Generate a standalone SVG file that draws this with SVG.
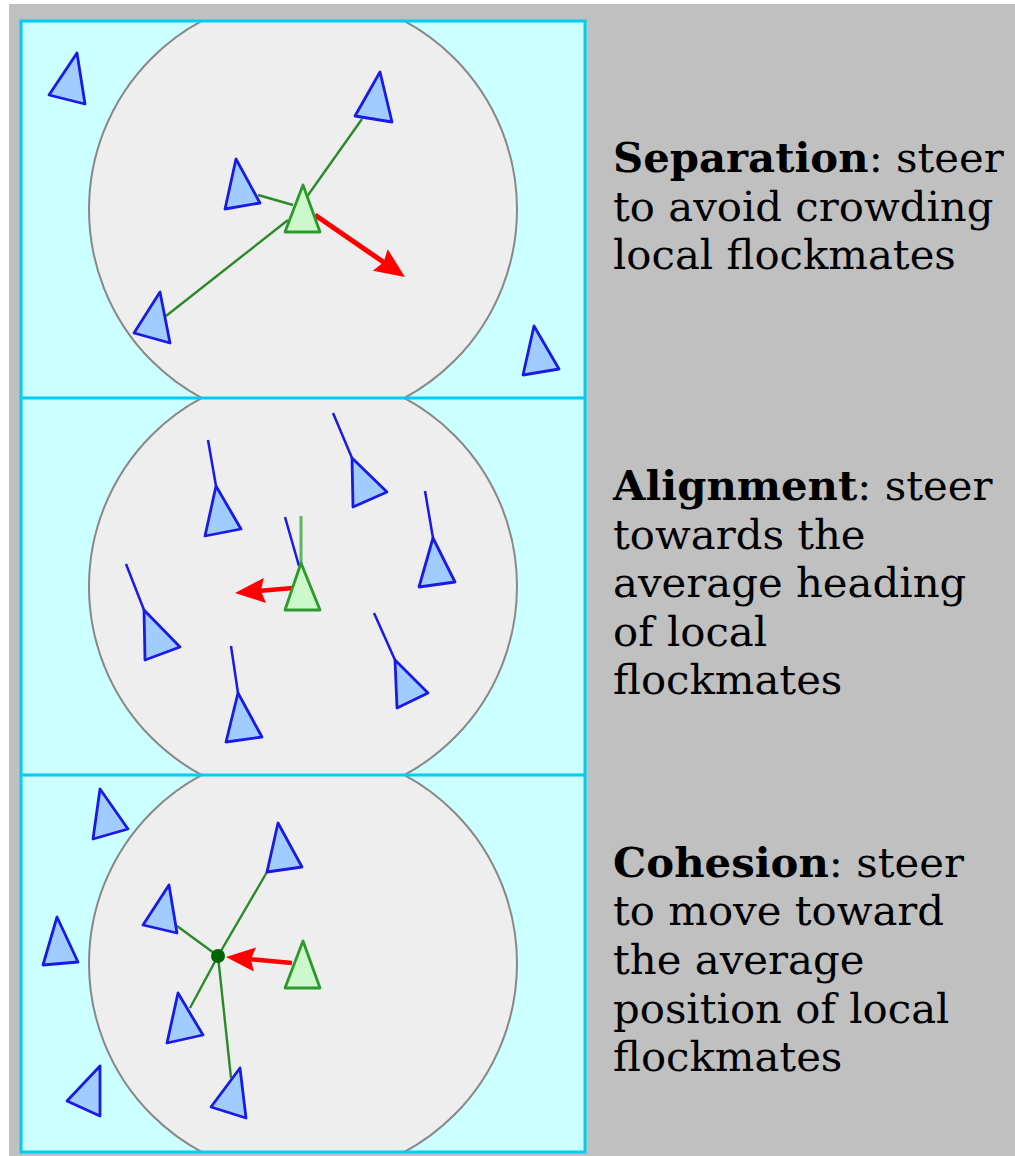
<svg xmlns="http://www.w3.org/2000/svg" width="1015" height="1156" viewBox="0 0 1015 1156">
<style>
.boid{fill:#a0ccff;stroke:#1a1ae6;stroke-width:2.8;stroke-linejoin:round}
.me{fill:#ccf8cc;stroke:#2a9a2a;stroke-width:2.8;stroke-linejoin:round}
.tail{stroke:#1a1ae6;stroke-width:2.5;fill:none}
.link{stroke:#2a8a2a;stroke-width:2.4;fill:none}
.gtail{stroke:#5ab85a;stroke-width:3;fill:none}
.force{stroke:#ff0000;fill:none}
.head{fill:#ff0000}
.area{fill:#eeeeee;stroke:#888888;stroke-width:2}
.lbl{font-family:"DejaVu Serif",serif;font-size:41.8px;fill:#000}
.lbl tspan.b{font-weight:bold}
</style>
<defs>
<clipPath id="c1"><rect x="21" y="21" width="564" height="377"/></clipPath>
<clipPath id="c2"><rect x="21" y="398" width="564" height="377"/></clipPath>
<clipPath id="c3"><rect x="21" y="775" width="564" height="377"/></clipPath>
</defs>
<rect x="0" y="0" width="1015" height="1156" fill="#ffffff"/>
<rect x="9" y="4" width="1006" height="1152" fill="#c0c0c0"/>
<rect x="21" y="21" width="564" height="1131" fill="#ccffff"/>
<g id="panel-separation" clip-path="url(#c1)">
<circle class="area" cx="303" cy="209.5" r="214"/>
</g>
<g id="panel-alignment" clip-path="url(#c2)">
<circle class="area" cx="303" cy="586.5" r="214"/>
</g>
<g id="panel-cohesion" clip-path="url(#c3)">
<circle class="area" cx="303" cy="963.5" r="214"/>
</g>
<g id="frame" fill="none" stroke="#00ccf5" stroke-width="3">
<rect x="21" y="21" width="564" height="1131"/>
<line x1="21" y1="398" x2="585" y2="398"/>
<line x1="21" y1="775" x2="585" y2="775"/>
</g>
<g id="connectors">
<line class="link" x1="258" y1="195" x2="293" y2="205"/>
<line class="link" x1="362" y1="119" x2="306" y2="198"/>
<line class="link" x1="166" y1="316" x2="288" y2="220"/>
<line class="force" stroke-width="5" x1="315" y1="215" x2="384" y2="262.5"/>
<polygon class="head" points="405,277 372.9,270.7 383.6,262.3 387.7,249.3"/>
<line class="gtail" x1="301" y1="516" x2="301" y2="563"/>
<line class="tail" x1="285" y1="517" x2="299" y2="566"/>
<line class="tail" x1="208" y1="440" x2="216" y2="486"/>
<line class="tail" x1="126" y1="564" x2="144" y2="610"/>
<line class="tail" x1="231" y1="646" x2="238" y2="693"/>
<line class="tail" x1="333" y1="413" x2="352" y2="458"/>
<line class="tail" x1="425" y1="491" x2="433" y2="538"/>
<line class="tail" x1="374" y1="613" x2="395" y2="660"/>
<line class="force" stroke-width="4.5" x1="293" y1="588" x2="261" y2="590.8"/>
<polygon class="head" points="235,593 263.8,578 260.9,590.8 266,602.9"/>
<line class="link" x1="267" y1="872" x2="218" y2="956"/>
<line class="link" x1="177" y1="926" x2="218" y2="956"/>
<line class="link" x1="190" y1="1008" x2="218" y2="956"/>
<line class="link" x1="231" y1="1078" x2="218" y2="956"/>
<line class="force" stroke-width="4.5" x1="292" y1="963" x2="251" y2="959.3"/>
<polygon class="head" points="226,957 256,947.6 250.9,959.3 253.8,971.6"/>
<circle cx="218" cy="956" r="7" fill="#006600"/>
</g>
<g id="boid-s1"><polygon class="boid" points="77,53 85,104 49,95"/></g>
<g id="boid-s2"><polygon class="boid" points="236,159 225,209 260,203"/></g>
<g id="boid-s3"><polygon class="boid" points="380,72 355,116 392,122"/></g>
<g id="boid-s4"><polygon class="boid" points="160,292 134,333 170,343"/></g>
<g id="boid-s5"><polygon class="boid" points="534,326 523,375 559,369"/></g>
<g id="boid-s0"><polygon class="me" points="303,185 285,232 320,232"/></g>
<g id="boid-a1"><polygon class="boid" points="216,486 205,536 241,529"/></g>
<g id="boid-a2"><polygon class="boid" points="144,610 145,660 180,647"/></g>
<g id="boid-a3"><polygon class="boid" points="238,693 226,742 262,737"/></g>
<g id="boid-a4"><polygon class="boid" points="352,458 353,507 387,492"/></g>
<g id="boid-a5"><polygon class="boid" points="433,538 419,587 455,582"/></g>
<g id="boid-a6"><polygon class="boid" points="395,660 397,708 428,693"/></g>
<g id="boid-a0"><polygon class="me" points="301,563 285,610 320,610"/></g>
<g id="boid-c1"><polygon class="boid" points="100,789 93,839 128,829"/></g>
<g id="boid-c2"><polygon class="boid" points="278,823 267,872 302,867"/></g>
<g id="boid-c3"><polygon class="boid" points="169,885 143,925 177,933"/></g>
<g id="boid-c4"><polygon class="boid" points="57,917 43,965 78,962"/></g>
<g id="boid-c5"><polygon class="boid" points="178,993 167,1043 203,1035"/></g>
<g id="boid-c6"><polygon class="boid" points="240,1068 211,1107 246,1118"/></g>
<g id="boid-c7"><polygon class="boid" points="100,1066 67,1101 100,1116"/></g>
<g id="boid-c0"><polygon class="me" points="303,941 285,988 320,988"/></g>
<g id="text-separation">
<text class="lbl" x="613" y="172"><tspan class="b">Separation</tspan>: steer</text>
<text class="lbl" x="613" y="221">to avoid crowding</text>
<text class="lbl" x="613" y="269">local flockmates</text>
</g>
<g id="text-alignment">
<text class="lbl" x="613" y="500"><tspan class="b">Alignment</tspan>: steer</text>
<text class="lbl" x="613" y="549">towards the</text>
<text class="lbl" x="613" y="597">average heading</text>
<text class="lbl" x="613" y="646">of local</text>
<text class="lbl" x="613" y="694">flockmates</text>
</g>
<g id="text-cohesion">
<text class="lbl" x="613" y="877"><tspan class="b">Cohesion</tspan>: steer</text>
<text class="lbl" x="613" y="925">to move toward</text>
<text class="lbl" x="613" y="974">the average</text>
<text class="lbl" x="613" y="1023">position of local</text>
<text class="lbl" x="613" y="1071">flockmates</text>
</g>
</svg>
